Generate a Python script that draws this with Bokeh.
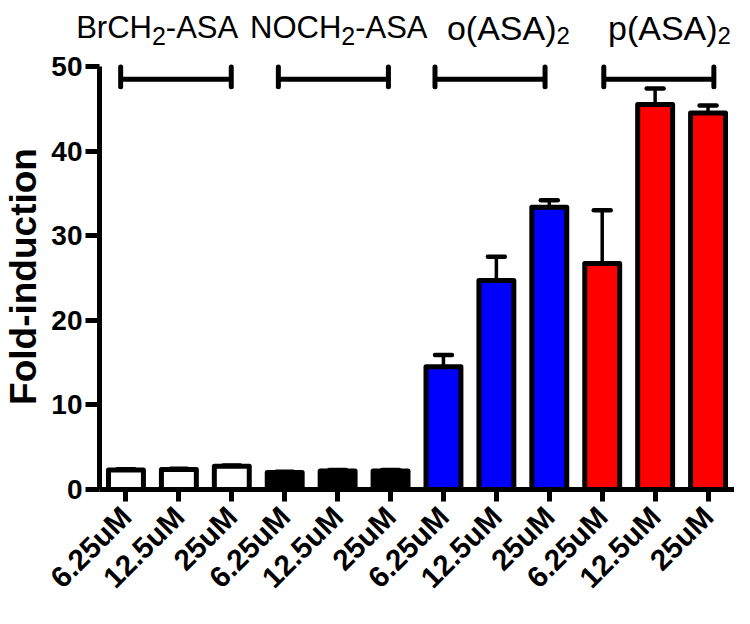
import math
from bokeh.plotting import figure
from bokeh.layouts import column
from bokeh.models import FixedTicker, Range1d, ColumnDataSource
from bokeh.core.properties import value
from bokeh.embed import file_html
from bokeh.resources import INLINE

# ---------------- data ----------------
conc_labels = ["6.25uM", "12.5uM", "25uM"] * 4
values = [2.3, 2.35, 2.75, 2.0, 2.2, 2.2, 14.5, 24.7, 33.35, 26.7, 45.5, 44.5]
errors = [0.1, 0.1, 0.1, 0.1, 0.1, 0.1, 1.4, 2.8, 0.85, 6.3, 1.9, 0.9]
fills = ["white"] * 3 + ["black"] * 3 + ["#0000FF"] * 3 + ["#FF0000"] * 3
y_ticks = [0, 10, 20, 30, 40, 50]
# group labels as (main, subscript, tail)
group_labels = [("BrCH", "2", "-ASA"), ("NOCH", "2", "-ASA"), ("o(ASA)", "2", ""), ("p(ASA)", "2", "")]

# ---------------- annotation positions / sizes ----------------
idx = list(range(len(values)))
group_label_x = [0.675, 4.08, 7.26, 10.28]
group_label_sizes = [(31, 25), (31, 25), (34, 24), (34, 24)]
bracket_x0 = [-0.10, 2.88, 5.84, 9.03]
bracket_x1 = [1.99, 4.96, 7.92, 11.11]
bracket_y = 48.5
bracket_lo, bracket_hi = 47.6, 49.95

W = 734
HEAD_H, MAIN_H = 50, 558
LEFT = 94
X0, X1 = -0.5, 11.5
px_per_unit = (W - LEFT) / (X1 - X0)

src = ColumnDataSource(dict(
    x=idx, top=values, fill=fills,
    etop=[v + e for v, e in zip(values, errors)],
    cx0=[i - 0.16 for i in idx], cx1=[i + 0.16 for i in idx],
))

# ---------------- header with group names ----------------
head = figure(width=W, height=HEAD_H, output_backend="svg", toolbar_location=None,
              x_range=Range1d(X0 - LEFT / px_per_unit, X1), y_range=Range1d(0, HEAD_H),
              x_axis_location=None, y_axis_location=None,
              min_border_left=0, min_border_right=0, min_border_top=0, min_border_bottom=0)
head.frame_align = False
head.outline_line_color = None
head.grid.visible = False

cw = {"B": 667, "r": 333, "C": 722, "H": 722, "-": 333, "A": 667, "S": 667, "N": 722,
      "O": 778, "o": 556, "(": 333, ")": 333, "p": 556, "2": 556}
def tw(s, size):
    return sum(cw[c] for c in s) * size / 1000.0

pieces = dict(x=[], y=[], text=[], xo=[], fs=[])
for gx, (a, b, c), (ms, ss) in zip(group_label_x, group_labels, group_label_sizes):
    total = tw(a, ms) + tw(b, ss) + tw(c, ms)
    off = -total / 2
    for txt, size, yy in ((a, ms, 23), (b, ss, 15), (c, ms, 23)):
        if txt:
            pieces["x"].append(gx); pieces["y"].append(yy); pieces["text"].append(txt)
            pieces["xo"].append(off); pieces["fs"].append(f"{size}px")
        off += tw(txt, size)

head.text(x="x", y="y", text="text", x_offset="xo", text_font_size="fs",
          source=ColumnDataSource(pieces), text_font=value("Liberation Sans"),
          text_align="left", text_baseline="alphabetic", text_color="black")

# ---------------- main chart ----------------
p = figure(width=W, height=MAIN_H, output_backend="svg", toolbar_location=None,
           x_range=Range1d(X0, X1), y_range=Range1d(0, 50.35),
           min_border_left=LEFT, min_border_right=0, min_border_top=13, min_border_bottom=117)
p.frame_align = False
p.outline_line_color = None
p.xgrid.visible = False
p.ygrid.visible = False
p.background_fill_color = "white"

# error bars (drawn under the bars)
p.segment(x0="x", y0="top", x1="x", y1="etop", source=src, line_color="black", line_width=3.5)
p.segment(x0="cx0", y0="etop", x1="cx1", y1="etop", source=src, line_color="black",
          line_width=4.5, line_cap="round")

# bars
p.vbar(x="x", top="top", bottom=0, width=0.66, source=src, fill_color="fill",
       line_color="black", line_width=5, line_join="round")

# group brackets
p.segment(x0=bracket_x0, y0=[bracket_y] * 4, x1=bracket_x1, y1=[bracket_y] * 4,
          line_color="black", line_width=5)
p.segment(x0=bracket_x0 + bracket_x1, y0=[bracket_lo] * 8, x1=bracket_x0 + bracket_x1,
          y1=[bracket_hi] * 8, line_color="black", line_width=5, line_cap="round")

# axes
for ax in (p.xaxis[0], p.yaxis[0]):
    ax.axis_line_width = 5
    ax.axis_line_color = "black"
    ax.major_tick_line_width = 5
    ax.major_tick_line_color = "black"
    ax.major_tick_in = 0
    ax.minor_tick_line_color = None
    ax.major_label_text_font = "Liberation Sans"
    ax.major_label_text_font_style = "bold"
    ax.major_label_text_color = "black"

p.xaxis.ticker = FixedTicker(ticks=idx)
p.xaxis.major_label_overrides = {i: lab for i, lab in zip(idx, conc_labels)}
p.xaxis.major_label_orientation = math.pi / 4
p.xaxis.major_label_text_font_size = "29.5px"
p.xaxis.major_tick_out = 12
p.xaxis.major_label_standoff = 10

p.yaxis.ticker = FixedTicker(ticks=y_ticks)
p.yaxis.bounds = (0, 50)
p.yaxis.major_label_text_font_size = "28px"
p.yaxis.major_tick_out = 14
p.yaxis.major_label_standoff = 3
p.yaxis.axis_label = "Fold-induction"
p.yaxis.axis_label_text_font = "Liberation Sans"
p.yaxis.axis_label_text_font_style = "bold"
p.yaxis.axis_label_text_font_size = "37px"
p.yaxis.axis_label_standoff = 4
p.yaxis.axis_label_text_color = "black"

layout = column(head, p, spacing=0)
open("out.html", "w").write(file_html(layout, INLINE))
